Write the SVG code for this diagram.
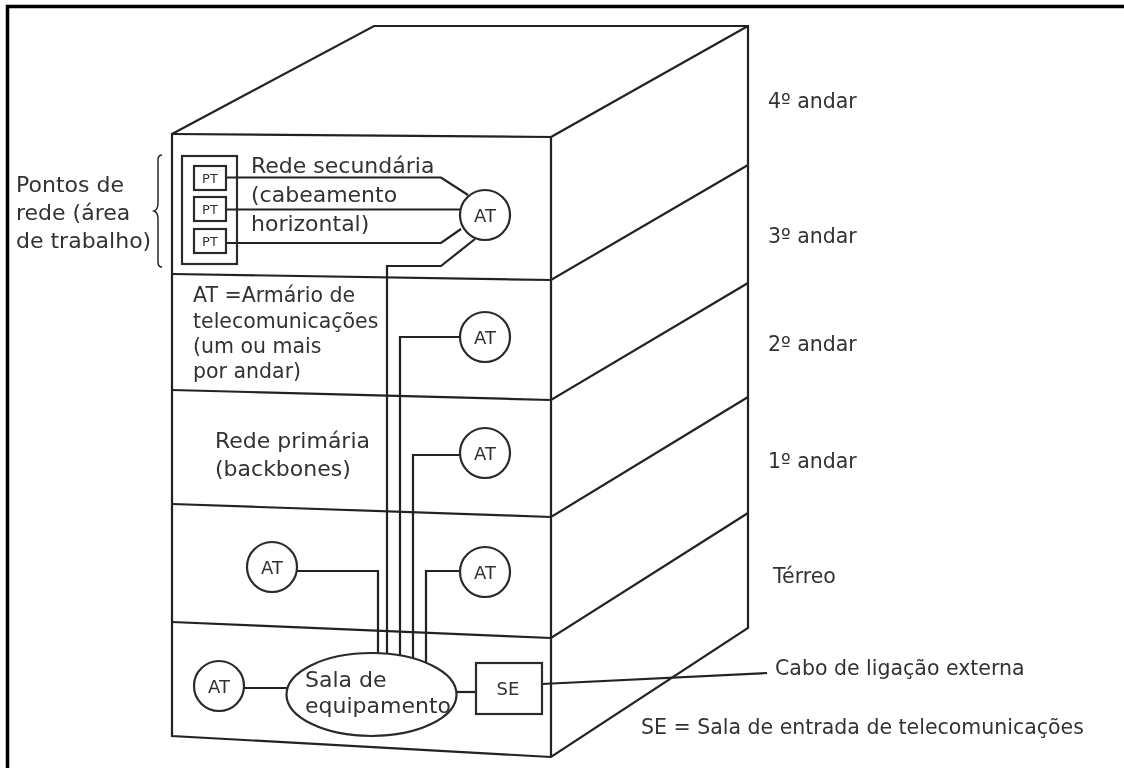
<svg xmlns="http://www.w3.org/2000/svg" width="1124" height="769" viewBox="0 0 1124 769">
<defs><filter id="soft" x="0" y="0" width="1124" height="769" filterUnits="userSpaceOnUse"><feGaussianBlur stdDeviation="0.5"/></filter></defs>
<style>
.l{fill:none;stroke:#222;stroke-width:2.200;stroke-linejoin:miter}
.n{fill:#fff;stroke:#2a2a2a;stroke-width:2.200}
.b{fill:none;stroke:#2a2a2a;stroke-width:2.200}
text{font-family:"DejaVu Sans",Verdana,sans-serif;fill:#333;font-size:22px}
.at{font-size:18px;text-anchor:middle}
.pt{font-size:13px;text-anchor:middle}
.m{font-size:20.500px}
</style>
<rect width="1124" height="769" fill="#fff"/>
<g filter="url(#soft)">
<path id="frame" d="M7.500 768V6.500H1124" fill="none" stroke="#000" stroke-width="3.500"/>
<g id="building">
<path class="l" d="M172 134L374 26H748V628L551 757L172 736Z"/>
<path class="l" d="M172 134L551 137V757"/>
<path class="l" d="M551 137L748 26"/>
<path class="l" d="M172 274L551 280L748 165"/>
<path class="l" d="M172 390L551 400L748 283"/>
<path class="l" d="M172 504L551 517L748 397"/>
<path class="l" d="M172 622L551 638L748 513"/>
</g>
<g id="connectors">
<path class="l" d="M226 177.500H441L468 195"/>
<path class="l" d="M226 209.500H460"/>
<path class="l" d="M226 243H441L461 229"/>
<path class="l" d="M475 239L441 266H387V654"/>
<path class="l" d="M460 337H400V655"/>
<path class="l" d="M460 455H413V659"/>
<path class="l" d="M460 571H426V663"/>
<path class="l" d="M297 571H378V654"/>
<path class="l" d="M244 688H287"/>
<path class="l" d="M456 692H476"/>
<path class="l" d="M542 684L767 673"/>
</g>
<g id="work-area">
<rect class="b" x="182" y="156" width="55" height="108"/>
</g>
<g id="pt1"><rect class="b" x="194" y="166" width="32" height="24"/><text class="pt" x="210" y="183">PT</text></g>
<g id="pt2"><rect class="b" x="194" y="197" width="32" height="24"/><text class="pt" x="210" y="214">PT</text></g>
<g id="pt3"><rect class="b" x="194" y="229" width="32" height="24"/><text class="pt" x="210" y="246">PT</text></g>
<path id="brace" class="b" style="stroke-width:1.500" d="M162 155C157 155 158 160 158 168V203C158 208 157 210 154 211C157 212 158 214 158 219V254C158 262 157 267 162 267"/>
<g id="at3"><circle class="n" cx="485" cy="215" r="25"/><text class="at" x="485" y="222">AT</text></g>
<g id="at2"><circle class="n" cx="485" cy="337" r="25"/><text class="at" x="485" y="344">AT</text></g>
<g id="at1"><circle class="n" cx="485" cy="453" r="25"/><text class="at" x="485" y="460">AT</text></g>
<g id="at0r"><circle class="n" cx="485" cy="572" r="25"/><text class="at" x="485" y="579">AT</text></g>
<g id="at0l"><circle class="n" cx="272" cy="567" r="25"/><text class="at" x="272" y="574">AT</text></g>
<g id="atb"><circle class="n" cx="219" cy="686" r="25"/><text class="at" x="219" y="693">AT</text></g>
<g id="sala"><ellipse class="n" cx="371.500" cy="694.500" rx="85" ry="41.500"/>
<text x="305" y="687">Sala de</text><text x="305" y="713">equipamento</text></g>
<g id="se"><rect class="n" x="476" y="663" width="66" height="51"/><text class="at" x="508" y="695">SE</text></g>
<g id="labels">
<text x="16" y="192">Pontos de</text><text x="16" y="220">rede (área</text><text x="16" y="248">de trabalho)</text>
<text x="251" y="173">Rede secundária</text><text x="251" y="202">(cabeamento</text><text x="251" y="231">horizontal)</text>
<text class="m" x="193" y="302">AT =Armário de</text><text class="m" x="193" y="328">telecomunicações</text><text class="m" x="193" y="353">(um ou mais</text><text class="m" x="193" y="378">por andar)</text>
<text x="215" y="448">Rede primária</text><text x="215" y="476">(backbones)</text>
<text class="m" x="768" y="108">4º andar</text>
<text class="m" x="768" y="243">3º andar</text>
<text class="m" x="768" y="351">2º andar</text>
<text class="m" x="768" y="468">1º andar</text>
<text class="m" x="773" y="583">Térreo</text>
<text class="m" x="775" y="675">Cabo de ligação externa</text>
<text class="m" x="641" y="734">SE = Sala de entrada de telecomunicações</text>
</g>
</g>
</svg>
